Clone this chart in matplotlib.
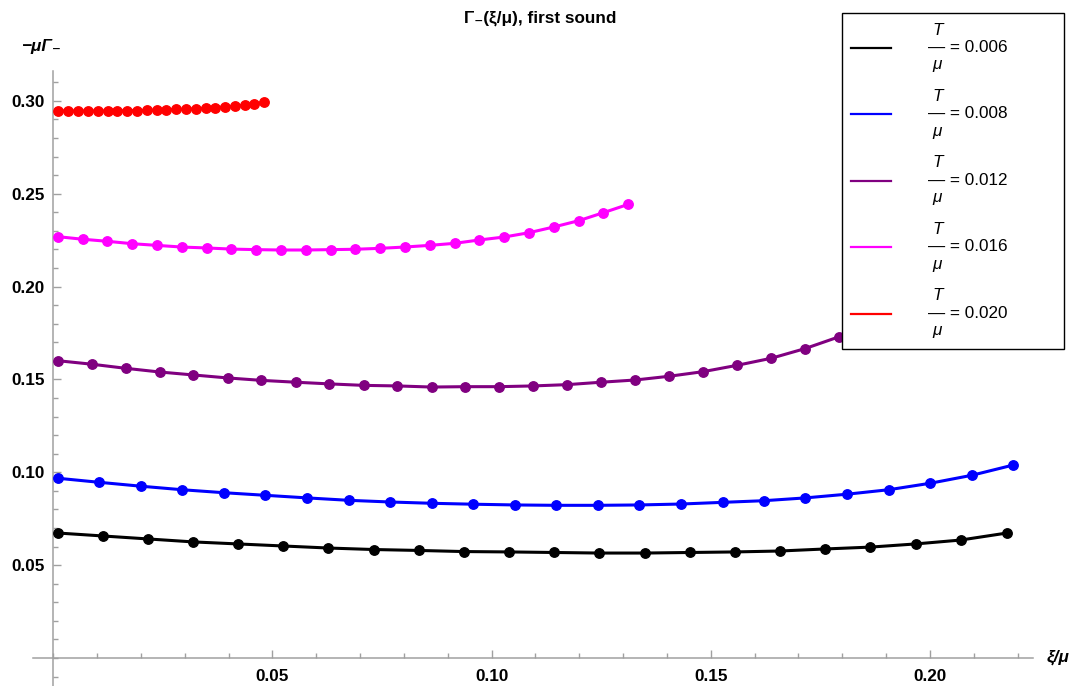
import matplotlib
matplotlib.use("Agg")
import matplotlib.pyplot as plt
from matplotlib.ticker import FixedLocator, MultipleLocator

plt.rcParams['font.family'] = ['Liberation Sans', 'DejaVu Sans']
plt.rcParams['mathtext.fontset'] = 'custom'
plt.rcParams['mathtext.rm'] = 'Liberation Sans'
plt.rcParams['mathtext.it'] = 'Liberation Sans:italic'
plt.rcParams['mathtext.bf'] = 'Liberation Sans:bold'

# Data
labels = ["0.006", "0.008", "0.012", "0.016", "0.020"]
colors = ["#000000", "#0000ff", "#800080", "#ff00ff", "#ff0000"]

x_006 = [0.001, 0.0113, 0.0216, 0.0319, 0.0422, 0.0525, 0.0628, 0.0731, 0.0834, 0.0937, 0.1040,
         0.1143, 0.1246, 0.1349, 0.1452, 0.1555, 0.1658, 0.1761, 0.1864, 0.1967, 0.2070, 0.2176]
y_006 = [0.0673, 0.0657, 0.0641, 0.0625, 0.0614, 0.0603, 0.0592, 0.0584, 0.0579, 0.0573, 0.0571,
         0.0568, 0.0565, 0.0565, 0.0568, 0.0571, 0.0576, 0.0587, 0.0597, 0.0614, 0.0635, 0.0673]

x_008 = [0.001, 0.0105, 0.0200, 0.0294, 0.0389, 0.0484, 0.0579, 0.0674, 0.0768, 0.0863, 0.0958, 0.1053,
         0.1148, 0.1242, 0.1337, 0.1432, 0.1527, 0.1622, 0.1716, 0.1811, 0.1906, 0.2001, 0.2096, 0.2190]
y_008 = [0.0968, 0.0946, 0.0925, 0.0906, 0.0890, 0.0876, 0.0862, 0.0849, 0.0840, 0.0833, 0.0828, 0.0824,
         0.0822, 0.0822, 0.0824, 0.0829, 0.0838, 0.0847, 0.0862, 0.0882, 0.0906, 0.0941, 0.0984, 0.1039]

x_012 = [0.001, 0.0088, 0.0165, 0.0243, 0.0320, 0.0398, 0.0475, 0.0553, 0.0630, 0.0708, 0.0785, 0.0863,
         0.0940, 0.1018, 0.1095, 0.1173, 0.1250, 0.1328, 0.1405, 0.1483, 0.1560, 0.1638, 0.1715, 0.1793,
         0.1870, 0.1948, 0.2025, 0.2103, 0.2180]
y_012 = [0.1601, 0.1582, 0.1560, 0.1540, 0.1524, 0.1508, 0.1495, 0.1485, 0.1476, 0.1468, 0.1465, 0.1459,
         0.1461, 0.1461, 0.1465, 0.1472, 0.1485, 0.1497, 0.1517, 0.1542, 0.1576, 0.1614, 0.1666, 0.1730,
         0.1800, 0.1890, 0.2000, 0.2130, 0.2290]

x_016 = [0.001, 0.0067, 0.0123, 0.0180, 0.0236, 0.0293, 0.0350, 0.0406, 0.0463, 0.0519, 0.0576, 0.0633,
         0.0689, 0.0746, 0.0802, 0.0859, 0.0916, 0.0972, 0.1029, 0.1085, 0.1142, 0.1199, 0.1255, 0.1312]
y_016 = [0.2269, 0.2255, 0.2244, 0.2231, 0.2222, 0.2213, 0.2208, 0.2202, 0.2199, 0.2197, 0.2197, 0.2199,
         0.2201, 0.2206, 0.2213, 0.2222, 0.2233, 0.2251, 0.2267, 0.2290, 0.2321, 0.2355, 0.2398, 0.2443]

x_020 = [0.0012, 0.0034, 0.0057, 0.0079, 0.0102, 0.0124, 0.0146, 0.0169, 0.0191, 0.0213, 0.0236,
         0.0258, 0.0280, 0.0303, 0.0325, 0.0348, 0.0370, 0.0392, 0.0415, 0.0437, 0.0459, 0.0482]
y_020 = [0.2947, 0.2946, 0.2946, 0.2946, 0.2946, 0.2946, 0.2947, 0.2947, 0.2948, 0.2949, 0.2951,
         0.2952, 0.2954, 0.2956, 0.2958, 0.2961, 0.2964, 0.2968, 0.2972, 0.2977, 0.2983, 0.2994]

series = [(x_006, y_006), (x_008, y_008), (x_012, y_012), (x_016, y_016), (x_020, y_020)]

W, H = 1081, 686
fig = plt.figure(figsize=(W / 100, H / 100), dpi=100)
ax = fig.add_axes([33 / W, 0, 1000 / W, (H - 71) / H])
ax.set_xlim(-0.0046, 0.2235)
ax.set_ylim(-0.0151, 0.3161)

for (xs, ys), c, lab in zip(series, colors, labels):
    ax.plot(xs, ys, color=c, lw=2.2, zorder=3)
    ax.plot(xs, ys, 'o', color=c, ms=6.8, zorder=4)
    # stacked fraction T over mu, as in the original legend
    ax.plot([], [], color=c, lw=1.6,
            label=" $T$\n\u2014 = " + lab + "          \n $\\mu$")

# Mathematica-style axes crossing at the origin
for side in ['top', 'right']:
    ax.spines[side].set_visible(False)
ax.spines['left'].set_position(('data', 0))
ax.spines['bottom'].set_position(('data', 0))
for side in ['left', 'bottom']:
    ax.spines[side].set_color('#a0a0a0')
    ax.spines[side].set_linewidth(1.1)

ax.xaxis.set_major_locator(FixedLocator([0.05, 0.10, 0.15, 0.20]))
ax.xaxis.set_minor_locator(MultipleLocator(0.01))
ax.yaxis.set_major_locator(FixedLocator([0.05, 0.10, 0.15, 0.20, 0.25, 0.30]))
ax.yaxis.set_minor_locator(MultipleLocator(0.01))
ax.set_xticklabels(["0.05", "0.10", "0.15", "0.20"])
ax.set_yticklabels(["0.05", "0.10", "0.15", "0.20", "0.25", "0.30"])
ax.tick_params(which='both', direction='in', color='#a0a0a0', width=1)
ax.tick_params(which='major', length=6)
ax.tick_params(which='minor', length=3.5)
ax.tick_params(axis='both', labelsize=12.3)
ax.tick_params(axis='x', pad=8)
ax.tick_params(axis='y', pad=6)
for t in ax.get_xticklabels() + ax.get_yticklabels():
    t.set_fontweight('bold')

fig.text(540 / W, 1 - 18 / H, "Γ₋(ξ/μ), first sound", ha='center', va='center',
         fontsize=12.3, fontweight='bold')
fig.text(22 / W, 1 - 46 / H, "−μΓ₋", ha='left', va='center', fontsize=12.3,
         fontweight='bold', style='italic')
fig.text(1047 / W, 1 - 657 / H, "ξ/μ", ha='left', va='center', fontsize=12.3,
         fontweight='bold', style='italic')

leg = ax.legend(loc='upper left', bbox_to_anchor=(842 / W, 1 - 13 / H),
                bbox_transform=fig.transFigure, borderaxespad=0, fontsize=12.3,
                frameon=True, fancybox=False, edgecolor='black', framealpha=1,
                handlelength=2.35, handletextpad=2.2, labelspacing=0.8,
                borderpad=0.5)
leg.get_frame().set_linewidth(1.0)
leg.set_zorder(10)

fig.savefig("out.png", dpi=100)
